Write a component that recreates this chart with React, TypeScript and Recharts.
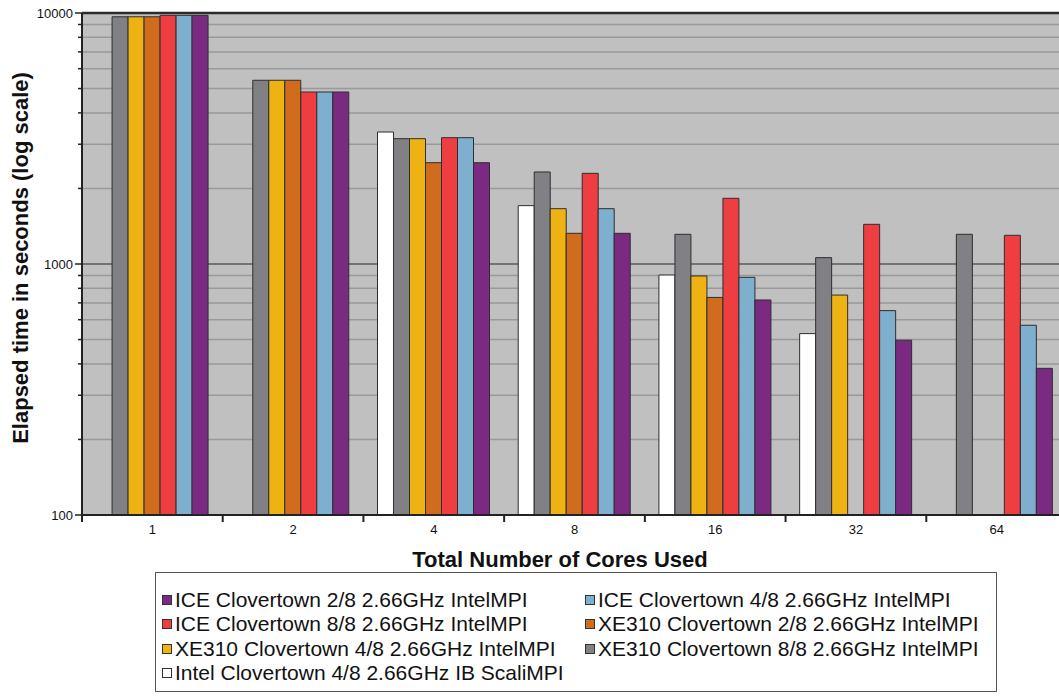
import { BarChart, Bar, XAxis, YAxis, CartesianGrid, ReferenceLine } from 'recharts'

const categories = ['1', '2', '4', '8', '16', '32', '64']

// elapsed seconds
const intelScali = [null, null, 3356, 1708, 904, 528, null]
const xe310Full = [9660, 5395, 3157, 2326, 1313, 1060, 1313]
const xe310Half = [9660, 5395, 3157, 1661, 896, 752, null]
const xe310Quarter = [9660, 5395, 2533, 1325, 736, null, null]
const iceFull = [9790, 4845, 3186, 2297, 1827, 1439, 1301]
const iceHalf = [9790, 4845, 3186, 1661, 885, 652, 570]
const iceQuarter = [9790, 4845, 2533, 1325, 719, 497, 384]

const yTicks = [
  100, 200, 300, 400, 500, 600, 700, 800, 900,
  1000, 2000, 3000, 4000, 5000, 6000, 7000, 8000, 9000,
  10000,
]
const majorTicks = [100, 1000, 10000]

type Series = { key: string; name: string; color: string; values: (number | null)[] }

// drawing order inside each group
const series: Series[] = [
  { key: 'intel', name: 'Intel Clovertown 4/8 2.66GHz IB ScaliMPI', color: '#ffffff', values: intelScali },
  { key: 'xe8', name: 'XE310 Clovertown 8/8 2.66GHz IntelMPI', color: '#808085', values: xe310Full },
  { key: 'xe4', name: 'XE310 Clovertown 4/8 2.66GHz IntelMPI', color: '#eeb313', values: xe310Half },
  { key: 'xe2', name: 'XE310 Clovertown 2/8 2.66GHz IntelMPI', color: '#cf6c1e', values: xe310Quarter },
  { key: 'ice8', name: 'ICE Clovertown 8/8 2.66GHz IntelMPI', color: '#ef3e42', values: iceFull },
  { key: 'ice4', name: 'ICE Clovertown 4/8 2.66GHz IntelMPI', color: '#7eafce', values: iceHalf },
  { key: 'ice2', name: 'ICE Clovertown 2/8 2.66GHz IntelMPI', color: '#7b2a81', values: iceQuarter },
]

const legendOrder = ['ice2', 'ice4', 'ice8', 'xe2', 'xe4', 'xe8', 'intel']

const data = categories.map((c, i) => {
  const row: Record<string, string | number | null> = { cores: c }
  series.forEach((s) => {
    row[s.key] = s.values[i]
  })
  return row
})

const CHART_W = 1080
const CHART_H = 696
const Y_W = 82
const margin = { top: 13, right: 13, left: 0, bottom: 151 }
const PLOT_W = CHART_W - Y_W - margin.left - margin.right
const BAND = PLOT_W / categories.length

const font = '"Liberation Sans", Arial, sans-serif'

function XTick(props: any) {
  const { x, y, payload, index } = props
  return (
    <g>
      <line x1={x - BAND / 2} x2={x - BAND / 2} y1={y} y2={y + 7} stroke="#222" strokeWidth={2} />
      {index === categories.length - 1 && (
        <line x1={x + BAND / 2} x2={x + BAND / 2} y1={y} y2={y + 7} stroke="#222" strokeWidth={2} />
      )}
      <text x={x} y={y + 19} textAnchor="middle" fontSize={13} fontFamily={font} fill="#111">
        {payload.value}
      </text>
    </g>
  )
}

function YTick(props: any) {
  const { x, y, payload } = props
  const major = majorTicks.includes(payload.value)
  return (
    <g>
      <line x1={x - (major ? 7 : 4)} x2={x} y1={y} y2={y} stroke="#222" strokeWidth={1.5} />
      {major && (
        <text x={x - 9} y={y + 4.5} textAnchor="end" fontSize={13} fontFamily={font} fill="#111">
          {payload.value}
        </text>
      )}
    </g>
  )
}

// grid line per y tick: decades darker than the minor lines
function GridLine(p: any) {
  const major = majorTicks.includes(yTicks[p.index])
  return (
    <line
      key={p.key}
      x1={p.x1}
      y1={p.y1}
      x2={p.x2}
      y2={p.y2}
      stroke={major ? '#5a5a5a' : '#999'}
      strokeWidth={1.5}
    />
  )
}

export default function App() {
  return (
    <div
      style={{
        position: 'absolute',
        left: 0,
        top: 0,
        width: 1059,
        height: 696,
        overflow: 'hidden',
        background: '#fff',
      }}
    >
      <BarChart
        width={CHART_W}
        height={CHART_H}
        data={data}
        margin={margin}
        barCategoryGap="10%"
        barGap={0}
      >
        <CartesianGrid vertical={false} horizontal={GridLine} fill="#c0c0c0" />
        <XAxis
          dataKey="cores"
          height={30}
          axisLine={{ stroke: '#222', strokeWidth: 2 }}
          tickLine={false}
          tickSize={0}
          tickMargin={0}
          tick={<XTick />}
          interval={0}
          label={{
            content: () => (
              <text x={560} y={567} textAnchor="middle" fontSize={22} fontWeight="bold" fontFamily={font} fill="#111">
                Total Number of Cores Used
              </text>
            ),
          }}
        />
        <YAxis
          width={Y_W}
          scale="log"
          domain={[100, 10000]}
          allowDataOverflow
          ticks={yTicks}
          interval={0}
          axisLine={{ stroke: '#222', strokeWidth: 2 }}
          tickLine={false}
          tickSize={0}
          tickMargin={0}
          tick={<YTick />}
          label={{
            content: () => (
              <text
                x={28}
                y={258}
                transform="rotate(-90, 28, 258)"
                textAnchor="middle"
                fontSize={22}
                fontWeight="bold"
                fontFamily={font}
                fill="#111"
              >
                Elapsed time in seconds (log scale)
              </text>
            ),
          }}
        />
        {series.map((s) => (
          <Bar
            key={s.key}
            dataKey={s.key}
            name={s.name}
            fill={s.color}
            stroke="#2e2e2e"
            strokeWidth={1}
            isAnimationActive={false}
          />
        ))}
        <ReferenceLine y={10000} stroke="#2b2b2b" strokeWidth={2.5} />
      </BarChart>
      <div
        style={{
          position: 'absolute',
          left: 155,
          top: 572,
          width: 840,
          height: 118,
          border: '1.5px solid #555',
          background: '#fff',
          fontFamily: font,
        }}
      >
        {legendOrder.map((k, i) => {
          const s = series.find((d) => d.key === k)!
          const col = i % 2
          const row = Math.floor(i / 2)
          return (
            <div
              key={k}
              style={{
                position: 'absolute',
                left: col === 0 ? 6 : 429,
                top: 15 + row * 24.4,
                height: 24,
                display: 'flex',
                alignItems: 'center',
                whiteSpace: 'nowrap',
              }}
            >
              <span
                style={{
                  display: 'inline-block',
                  width: 8,
                  height: 8,
                  background: s.color,
                  border: '1px solid #333',
                  marginRight: 3,
                }}
              />
              <span style={{ fontSize: 21, color: '#111', lineHeight: '24px' }}>{s.name}</span>
            </div>
          )
        })}
      </div>
    </div>
  )
}
